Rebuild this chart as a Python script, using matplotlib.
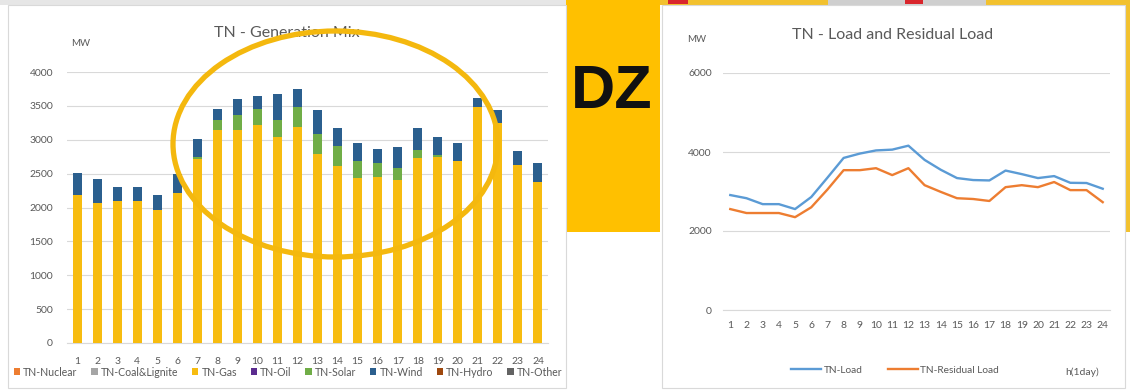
import matplotlib
matplotlib.use("Agg")
import matplotlib.pyplot as plt
from matplotlib.patches import Rectangle, Ellipse

plt.rcParams['font.family'] = ['Lato', 'DejaVu Sans']

# ---- data -------------------------------------------------------------
hours = list(range(1, 25))
gen_series = ["TN-Nuclear", "TN-Coal&Lignite", "TN-Gas", "TN-Oil",
              "TN-Solar", "TN-Wind", "TN-Hydro", "TN-Other"]
nuclear = [0] * 24
coal = [0] * 24
gas = [2180, 2070, 2100, 2100, 1960, 2210, 2720, 3140, 3140, 3220, 3040, 3190,
       2790, 2610, 2435, 2450, 2405, 2730, 2750, 2690, 3480, 3245, 2630, 2380]
oil = [0] * 24
solar = [0, 0, 0, 0, 0, 0, 30, 150, 225, 230, 250, 290,
         295, 300, 255, 205, 175, 120, 20, 0, 0, 0, 0, 0]
wind = [330, 350, 200, 200, 220, 280, 260, 160, 235, 200, 390, 270,
        355, 260, 260, 205, 315, 320, 275, 260, 140, 195, 210, 275]
hydro = [0] * 24
other = [0] * 24

load = [2910, 2830, 2680, 2680, 2555, 2860, 3350, 3850, 3960, 4040, 4060, 4160,
        3800, 3550, 3340, 3290, 3280, 3530, 3440, 3340, 3390, 3220, 3215, 3070]
residual = [2555, 2455, 2455, 2455, 2350, 2600, 3050, 3540, 3540, 3590, 3415, 3590,
            3160, 2990, 2830, 2810, 2760, 3110, 3160, 3110, 3240, 3035, 3035, 2730]

gen_colors = ["#ED7D31", "#A5A5A5", "#F7BC10", "#5B2C8F",
              "#70AD47", "#2B5F8E", "#9E480E", "#636363"]

W, H = 1130, 392
fig = plt.figure(figsize=(W / 100, H / 100), dpi=100)
fig.patch.set_facecolor("white")


def fr(x, y, w, h):
    # pixel box (top-left origin) -> figure fraction
    return (x / W, 1 - (y + h) / H), w / W, h / H


def box(x, y, w, h, fc, ec="none", lw=0, z=-5):
    xy, ww, hh = fr(x, y, w, h)
    fig.add_artist(Rectangle(xy, ww, hh, transform=fig.transFigure,
                             fc=fc, ec=ec, lw=lw, zorder=z))


# background pieces of the slide
box(0, 0, 566, 5, "#E6E6E6")
box(566, 0, 94, 232, "#FFC000")
box(660, 0, 168, 5, "#F2C12E")
box(668, 0, 20, 4, "#D9262C", z=-4)
box(828, 0, 158, 5, "#CFCFCF")
box(905, 0, 18, 4, "#D9262C", z=-4)
box(986, 0, 144, 232, "#F2C12E")
box(8, 5, 558, 383, "white", ec="#D9D9D9", lw=0.8, z=-3)
box(662, 5, 463, 383, "white", ec="#D9D9D9", lw=0.8, z=-3)

fig.text(612 / W, 1 - 93 / H, "DZ", ha="center", va="center",
         fontsize=44, fontweight="bold", color="#111111",
         family=["Liberation Sans", "DejaVu Sans"])

grey = "#595959"

# ---- left: generation mix ---------------------------------------------
(lx, ly), lw_, lh = fr(67, 72, 481, 271)
ax1 = fig.add_axes([lx, ly, lw_, lh])
ax1.set_facecolor("none")
bottom = [0] * 24
handles = []
for name, vals, col in zip(gen_series,
                           [nuclear, coal, gas, oil, solar, wind, hydro, other],
                           gen_colors):
    b = ax1.bar(hours, vals, width=0.45, bottom=bottom, color=col,
                label=name, zorder=3)
    handles.append(b)
    bottom = [p + v for p, v in zip(bottom, vals)]
ax1.set_xlim(0.5, 24.5)
ax1.set_ylim(0, 4000)
ax1.set_yticks(range(0, 4001, 500))
ax1.set_xticks(hours)
ax1.grid(axis="y", color="#D9D9D9", lw=0.8, zorder=0)
for s in ["top", "right", "left"]:
    ax1.spines[s].set_visible(False)
ax1.spines["bottom"].set_color("#D9D9D9")
ax1.tick_params(axis="y", length=0, pad=10, labelsize=7.5, labelcolor=grey)
ax1.tick_params(axis="x", length=0, pad=10, labelsize=7.5, labelcolor=grey)

fig.text(287 / W, 1 - 33 / H, "TN - Generation Mix", ha="center", va="center",
         fontsize=11.5, color=grey)
fig.text(81 / W, 1 - 44 / H, "MW", ha="center", va="center",
         fontsize=7, color=grey)
fig.legend(handles=handles, loc="center", bbox_to_anchor=(288 / W, 1 - 372 / H),
           ncol=8, frameon=False, fontsize=7.6, labelcolor=grey,
           handlelength=0.6, handleheight=0.6, handletextpad=0.3,
           columnspacing=1.3)

# highlight ellipse on top of the bars
(ex, ey), ew, eh = fr(173, 31, 325, 226)
fig.add_artist(Ellipse((ex + ew / 2, ey + eh / 2), ew, eh,
                       transform=fig.transFigure, fill=False,
                       ec="#F4B80E", lw=3.8, zorder=10))

# ---- right: load and residual load ------------------------------------
(rx, ry), rw, rh = fr(723, 73, 387, 237)
ax2 = fig.add_axes([rx, ry, rw, rh])
ax2.set_facecolor("none")
ax2.plot(hours, load, color="#5B9BD5", lw=1.7, label="TN-Load", zorder=3)
ax2.plot(hours, residual, color="#ED7D31", lw=1.7, label="TN-Residual Load",
         zorder=3)
ax2.set_xlim(0.55, 24.45)
ax2.set_ylim(0, 6000)
ax2.set_yticks(range(0, 6001, 2000))
ax2.set_xticks(hours)
ax2.grid(axis="y", color="#D9D9D9", lw=0.8, zorder=0)
for s in ["top", "right", "left"]:
    ax2.spines[s].set_visible(False)
ax2.spines["bottom"].set_color("#D9D9D9")
ax2.tick_params(axis="y", length=0, pad=8, labelsize=7.5, labelcolor=grey)
ax2.tick_params(axis="x", length=0, pad=8, labelsize=7.5, labelcolor=grey)

fig.text(893 / W, 1 - 35 / H, "TN - Load and Residual Load", ha="center",
         va="center", fontsize=11.5, color=grey)
fig.text(697 / W, 1 - 40 / H, "MW", ha="center", va="center",
         fontsize=7, color=grey)
fig.legend(*ax2.get_legend_handles_labels(), loc="center",
           bbox_to_anchor=(895 / W, 1 - 370 / H), ncol=2, frameon=False,
           fontsize=7.3, labelcolor=grey, handlelength=3.0,
           handletextpad=0.2, columnspacing=2.5)
fig.text(1082 / W, 1 - 372 / H, "h(1day)", ha="center", va="center",
         fontsize=7.5, color=grey)

fig.savefig("out.png", dpi=100)
